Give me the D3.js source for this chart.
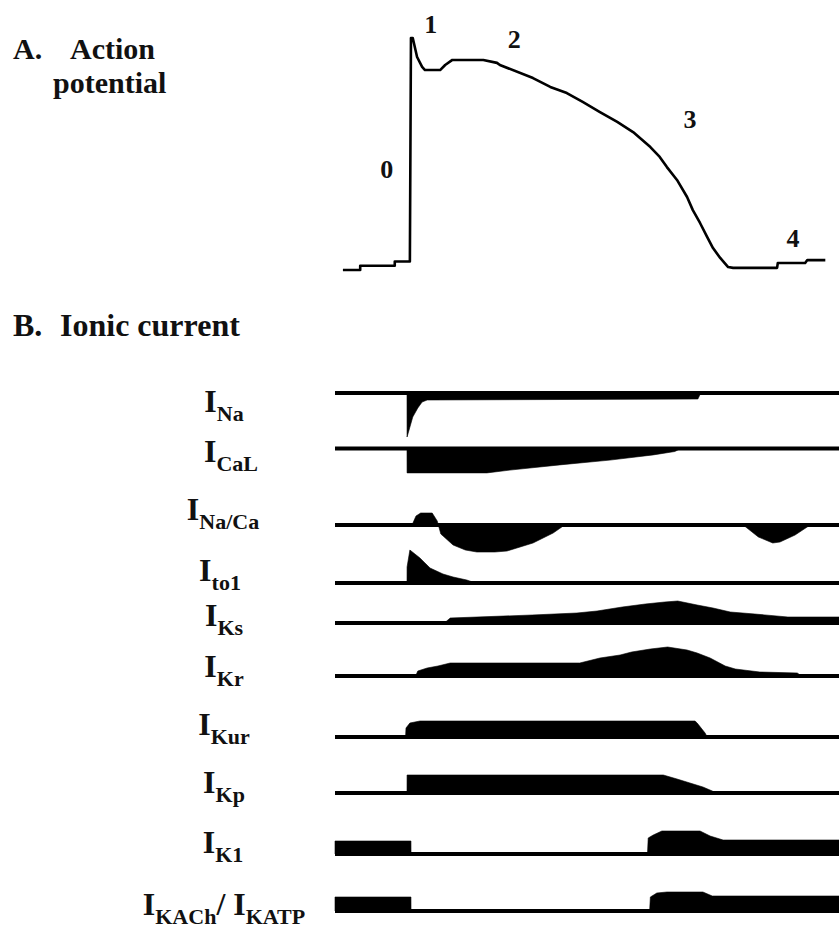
<!DOCTYPE html>
<html>
<head>
<meta charset="utf-8">
<script src="https://cdn.jsdelivr.net/npm/d3@7"></script>
<style>
  html, body { margin: 0; padding: 0; background: #fff; }
  svg { display: block; }
  text { font-family: "Liberation Serif", "Times New Roman", serif; font-weight: bold; fill: #111; }
</style>
</head>
<body>
<svg id="chart" width="839" height="928"></svg>
<script>
// ---------------- DATA ----------------
// A. Action potential: time (ms) and membrane voltage (mV)
const apTime = [-89,-65,-65,-17,-17,4,5.5,8,14,21,25,46,53,63,106,125,129,175,199,222,244,268,292,314,338,351,361,375,389,397,407,417,425,435,446,453,514,515,553,556,581];
const apVoltage = [-80,-80,-78,-78,-76,-76,30,30,21,16.3,14.8,14.8,17.2,19.6,19.6,18.2,17.2,11,6.8,3.9,-0.3,-5.1,-9.8,-14.6,-21.7,-26.4,-31.2,-37.3,-45.4,-51.6,-57.7,-64.4,-69.6,-74.3,-78.6,-79,-79,-76.7,-76.7,-75.3,-75.3];

// Phase labels and where they sit (time, voltage)
const phaseLabels = ["0", "1", "2", "3", "4"];
const phaseTime = [-28, 33, 149, 393, 536];
const phaseVoltage = [-36.4, 32.4, 25.3, -12.7, -69.1];

// B. Ionic currents: [time ms, current a.u.] (positive = outward, negative = inward)
const iNa   = [[-100,0],[0,0],[0.1,-22],[8,-12],[15,-7.5],[21,-4.5],[28,-3.5],[404,-3],[408,0],[600,0]];
const iCaL  = [[-100,0],[0,0],[0.1,-12.2],[111,-12.2],[143,-10.8],[212,-8.2],[282,-5.8],[342,-3.2],[372,-1.5],[380,0],[600,0]];
const iNaCa = [[-100,0],[7,0],[12.5,4.5],[19,6],[35,6],[42,2],[47,-4.5],[64,-10],[81,-12.5],[97,-13.5],[122,-13.5],[139,-13],[175,-9],[203,-4],[219,0],[467,0],[488,-6],[508,-9],[518,-8.5],[539,-5],[560,0],[600,0]];
const iTo1  = [[-100,0],[0,0],[0.1,8],[4,16.5],[18,12.5],[32,7.5],[50,4.5],[64,3],[83,1.5],[95,0],[600,0]];
const iKs   = [[-100,0],[52,0],[60,2.5],[174,4],[236,5],[264,6],[299,8],[331,9.5],[358,10.5],[376,11],[403,9],[425,7.5],[449,5.5],[483,4.5],[529,3],[600,3]];
const iKr   = [[-100,0],[12,0],[15,2.5],[28,4],[43,5],[60,6.5],[240,6.5],[268,9],[296,10.5],[312,12],[338,13.5],[362,14.5],[389,13],[403,11.5],[421,9],[442,5],[456,3.5],[490,2],[542,1.5],[548,0],[600,0]];
const iKur  = [[-100,0],[-2,0],[-1.4,4.5],[4,7],[18,8],[400,8],[403,7],[414,2],[417,0],[600,0]];
const iKp   = [[-100,0],[0,0],[0.1,9],[356,9],[375,7],[393,5],[411,3],[424,1],[428,0],[600,0]];
const iK1   = [[-100,6.5],[5.5,6.5],[5.6,0],[334,0],[335,8],[342,9.5],[354,11.5],[407,11.5],[421,9],[439,7],[600,7]];
const iKACh = [[-100,7],[5.5,7],[5.6,0],[337,0],[338,7],[347,9],[361,9.5],[411,9.5],[424,7.5],[600,7.5]];

const currentSeries = [iNa, iCaL, iNaCa, iTo1, iKs, iKr, iKur, iKp, iK1, iKACh];
const currentSubscripts = [["Na"],["CaL"],["Na/Ca"],["to1"],["Ks"],["Kr"],["Kur"],["Kp"],["K1"],["KACh","KATP"]];

// ---------------- LAYOUT ----------------
const traceBaselineY = [393, 448.5, 525, 583, 623, 676, 737, 793, 854, 911];
const labelBaselineY = [412, 462, 520, 581, 626, 677, 735, 793, 853, 915];
const labelCenterX  = [224, 231, 223, 220, 224, 224, 224, 224, 223, 224];

const svg = d3.select("#chart");
svg.append("rect").attr("width", 839).attr("height", 928).attr("fill", "#fff");

const timeScale = d3.scaleLinear().domain([-100, 600]).range([335, 839]);
const vScale = d3.scaleLinear().domain([-80, 30]).range([270, 38]);
const iScale = d3.scaleLinear().domain([-25, 25]).range([50, -50]);

// ---------------- Titles ----------------
const titleSize = 32, titleASize = 30;
svg.append("text").attr("x", 13).attr("y", 59).attr("font-size", titleASize).text("A.");
svg.append("text").attr("x", 70).attr("y", 59).attr("font-size", titleASize).text("Action");
svg.append("text").attr("x", 53).attr("y", 93).attr("font-size", titleASize).text("potential");
svg.append("text").attr("x", 13).attr("y", 336).attr("font-size", titleSize).text("B.");
svg.append("text").attr("x", 60).attr("y", 336).attr("font-size", titleSize).text("Ionic current");

// ---------------- Action potential ----------------
const apData = apTime.map((t, i) => [t, apVoltage[i]]);
svg.append("path")
  .datum(apData)
  .attr("fill", "none")
  .attr("stroke", "#000")
  .attr("stroke-width", 2.6)
  .attr("stroke-linejoin", "round")
  .attr("d", d3.line().x(d => timeScale(d[0])).y(d => vScale(d[1])));

svg.selectAll("text.phase")
  .data(phaseLabels)
  .join("text")
  .attr("class", "phase")
  .attr("x", (d, i) => timeScale(phaseTime[i]))
  .attr("y", (d, i) => vScale(phaseVoltage[i]))
  .attr("text-anchor", "middle")
  .attr("font-size", 26)
  .text(d => d);

// ---------------- Ionic currents ----------------
const area = d3.area()
  .x(d => timeScale(d[0]))
  .y0(iScale(0))
  .y1(d => iScale(d[1]));

currentSeries.forEach((series, k) => {
  const g = svg.append("g").attr("transform", `translate(0,${traceBaselineY[k]})`);
  g.append("path").datum(series).attr("fill", "#000").attr("stroke", "#000").attr("stroke-width", 0.6).attr("d", area);
  g.append("line")
    .attr("x1", timeScale(-100)).attr("x2", timeScale(600))
    .attr("y1", iScale(0)).attr("y2", iScale(0))
    .attr("stroke", "#000").attr("stroke-width", 4.2);
});

// Labels
const mainSize = 32, subSize = 22, subDy = 9;
currentSubscripts.forEach((subs, k) => {
  const t = svg.append("text")
    .attr("x", labelCenterX[k])
    .attr("y", labelBaselineY[k])
    .attr("text-anchor", "middle");
  subs.forEach((s, j) => {
    t.append("tspan")
      .attr("font-size", mainSize)
      .attr("dy", j === 0 ? 0 : -subDy)
      .text(j === 0 ? "I" : "/ I");
    t.append("tspan")
      .attr("font-size", subSize)
      .attr("dy", subDy)
      .text(s);
  });
});
</script>
</body>
</html>
